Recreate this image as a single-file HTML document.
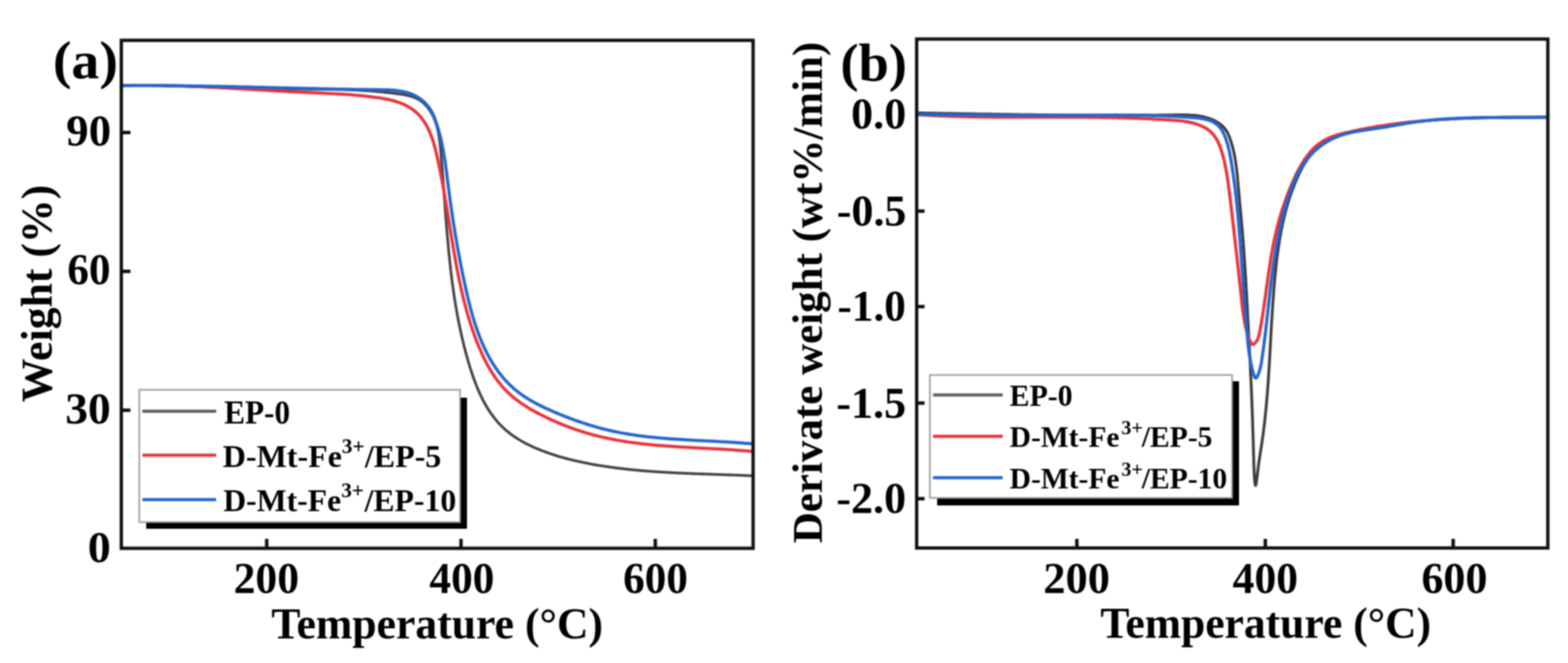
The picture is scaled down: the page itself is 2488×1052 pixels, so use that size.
<!DOCTYPE html>
<html><head><meta charset="utf-8"><title>TGA and DTG curves</title>
<style>html,body{margin:0;padding:0;background:#fff;}svg{display:block;filter:blur(1px);}</style>
</head><body>
<svg width="2488" height="1052" viewBox="0 0 2488 1052">
<rect width="2488" height="1052" fill="#ffffff"/>
<defs><clipPath id="ca"><rect x="192" y="64" width="1003" height="806"/></clipPath><clipPath id="cb"><rect x="1454" y="62" width="1002" height="807"/></clipPath></defs>
<g clip-path="url(#ca)"><path d="M190.0,135.9 192.9,135.9 195.8,135.8 198.7,135.8 201.5,135.8 204.4,135.8 207.3,135.8 210.2,135.7 213.1,135.7 216.0,135.7 218.9,135.8 221.8,135.8 224.6,135.8 227.5,135.8 230.4,135.8 233.3,135.8 236.2,135.9 239.1,135.9 242.0,135.9 244.9,136.0 247.7,136.0 250.6,136.1 253.5,136.1 256.4,136.2 259.3,136.2 262.2,136.3 265.1,136.4 267.9,136.4 270.8,136.5 273.7,136.6 276.6,136.6 279.5,136.7 282.4,136.8 285.3,136.8 288.1,136.9 291.0,137.0 293.9,137.1 296.8,137.2 299.7,137.3 302.6,137.3 305.4,137.4 308.3,137.5 311.2,137.6 314.1,137.7 317.0,137.8 319.9,137.9 322.7,138.0 325.6,138.1 328.5,138.2 331.4,138.3 334.3,138.4 337.2,138.5 340.1,138.5 342.9,138.6 345.8,138.7 348.7,138.8 351.6,138.9 354.5,139.0 357.4,139.1 360.2,139.2 363.1,139.3 366.0,139.4 368.9,139.5 371.8,139.6 374.7,139.7 377.5,139.7 380.4,139.8 383.3,139.9 386.2,140.0 389.1,140.1 392.0,140.2 394.8,140.2 397.7,140.3 400.6,140.4 403.5,140.5 406.4,140.5 409.3,140.6 412.1,140.7 415.0,140.7 417.9,140.8 420.8,140.8 423.7,140.9 426.6,141.0 429.4,141.0 432.3,141.0 435.2,141.1 438.1,141.1 441.0,141.2 443.9,141.2 446.7,141.2 449.6,141.3 452.5,141.3 455.4,141.3 458.3,141.3 461.2,141.3 464.0,141.4 466.9,141.4 469.8,141.4 472.7,141.4 475.6,141.4 478.5,141.4 481.3,141.4 484.2,141.4 487.1,141.5 490.0,141.5 492.9,141.5 495.8,141.5 498.7,141.5 501.5,141.6 504.4,141.6 507.3,141.6 510.2,141.6 513.1,141.7 516.0,141.7 518.9,141.7 521.7,141.8 524.6,141.8 527.5,141.9 530.4,141.9 533.3,142.0 536.2,142.1 539.1,142.1 542.0,142.2 544.9,142.3 547.7,142.4 550.6,142.5 553.5,142.6 556.4,142.7 559.3,142.8 562.2,142.9 565.1,143.1 568.0,143.2 570.9,143.4 573.8,143.5 576.7,143.7 579.6,143.9 582.5,144.0 585.3,144.2 588.2,144.4 591.1,144.6 594.0,144.9 596.9,145.1 599.8,145.4 602.7,145.6 605.6,145.9 608.5,146.2 611.4,146.5 614.3,146.8 617.2,147.1 620.1,147.4 623.0,147.8 625.9,148.1 628.8,148.5 631.7,148.9 634.6,149.3 637.5,149.7 640.4,150.2 643.2,150.7 646.1,151.3 648.8,152.0 651.6,152.7 654.3,153.5 656.9,154.5 659.5,155.5 661.9,156.7 664.3,158.0 666.7,159.4 668.9,161.0 671.0,162.7 673.1,164.6 675.1,166.5 676.9,168.6 678.7,170.7 680.4,172.9 682.0,175.2 683.5,177.6 685.0,180.0 686.3,182.5 687.5,185.0 688.7,187.6 689.7,190.2 690.7,192.8 691.6,195.5 692.5,198.2 693.3,200.9 694.0,203.6 694.7,206.4 695.3,209.2 695.8,212.1 696.3,214.9 696.8,217.8 697.2,220.7 697.6,223.6 698.0,226.5 698.3,229.4 698.6,232.4 698.9,235.3 699.2,238.3 699.4,241.2 699.7,244.1 700.0,247.1 700.2,250.0 700.4,253.0 700.7,255.9 700.9,258.8 701.2,261.8 701.4,264.7 701.6,267.6 701.9,270.6 702.1,273.5 702.3,276.4 702.5,279.3 702.8,282.3 703.0,285.2 703.2,288.1 703.4,291.0 703.6,293.9 703.9,296.8 704.1,299.7 704.3,302.7 704.5,305.6 704.7,308.5 704.9,311.4 705.1,314.3 705.4,317.2 705.6,320.1 705.8,322.9 706.0,325.8 706.2,328.7 706.4,331.6 706.6,334.5 706.9,337.4 707.1,340.3 707.3,343.2 707.5,346.0 707.7,348.9 708.0,351.8 708.2,354.7 708.4,357.5 708.7,360.4 708.9,363.3 709.1,366.2 709.4,369.0 709.6,371.9 709.9,374.8 710.1,377.6 710.4,380.5 710.6,383.3 710.9,386.2 711.1,389.1 711.4,391.9 711.7,394.8 711.9,397.6 712.2,400.5 712.5,403.3 712.8,406.2 713.1,409.0 713.4,411.9 713.7,414.7 714.0,417.6 714.3,420.4 714.6,423.3 714.9,426.1 715.2,429.0 715.6,431.8 715.9,434.6 716.3,437.5 716.6,440.3 717.0,443.1 717.3,446.0 717.7,448.8 718.1,451.6 718.5,454.5 718.9,457.3 719.3,460.1 719.7,463.0 720.1,465.8 720.5,468.6 720.9,471.5 721.4,474.3 721.8,477.1 722.3,479.9 722.7,482.8 723.2,485.6 723.7,488.4 724.2,491.2 724.7,494.1 725.2,496.9 725.7,499.7 726.2,502.5 726.7,505.3 727.3,508.2 727.8,511.0 728.4,513.8 729.0,516.6 729.6,519.4 730.2,522.2 730.8,525.1 731.4,527.9 732.0,530.7 732.6,533.5 733.3,536.3 734.0,539.1 734.6,541.9 735.3,544.7 736.0,547.6 736.7,550.4 737.4,553.2 738.2,556.0 738.9,558.8 739.7,561.6 740.4,564.4 741.2,567.2 742.0,570.0 742.8,572.9 743.6,575.7 744.5,578.5 745.3,581.3 746.2,584.1 747.1,586.9 748.0,589.7 748.9,592.5 749.8,595.2 750.8,598.0 751.8,600.8 752.8,603.5 753.8,606.2 754.8,609.0 755.9,611.7 757.0,614.4 758.1,617.1 759.2,619.7 760.4,622.4 761.6,625.0 762.8,627.6 764.1,630.2 765.3,632.8 766.6,635.4 768.0,637.9 769.4,640.4 770.8,642.9 772.2,645.4 773.7,647.8 775.2,650.2 776.7,652.6 778.3,654.9 779.9,657.2 781.6,659.5 783.3,661.8 785.0,664.0 786.8,666.2 788.6,668.3 790.4,670.5 792.3,672.6 794.3,674.6 796.3,676.6 798.3,678.6 800.4,680.5 802.5,682.4 804.7,684.2 806.9,686.0 809.1,687.8 811.4,689.5 813.8,691.2 816.2,692.8 818.6,694.4 821.0,696.0 823.5,697.5 826.0,699.0 828.5,700.5 831.1,701.9 833.7,703.3 836.3,704.6 839.0,705.9 841.6,707.2 844.3,708.5 847.0,709.7 849.7,710.9 852.4,712.0 855.1,713.1 857.8,714.2 860.5,715.3 863.3,716.3 866.0,717.4 868.8,718.3 871.5,719.3 874.2,720.2 877.0,721.1 879.7,722.0 882.5,722.9 885.2,723.7 888.0,724.6 890.8,725.4 893.5,726.1 896.3,726.9 899.1,727.6 901.9,728.4 904.6,729.1 907.4,729.7 910.2,730.4 913.0,731.1 915.8,731.7 918.6,732.3 921.4,732.9 924.2,733.5 927.0,734.1 929.8,734.7 932.6,735.2 935.4,735.8 938.2,736.3 941.0,736.8 943.9,737.3 946.7,737.8 949.5,738.3 952.4,738.8 955.2,739.2 958.0,739.7 960.9,740.1 963.7,740.5 966.6,740.9 969.4,741.3 972.2,741.7 975.1,742.1 978.0,742.5 980.8,742.8 983.7,743.2 986.5,743.5 989.4,743.9 992.3,744.2 995.1,744.5 998.0,744.8 1000.9,745.1 1003.7,745.4 1006.6,745.7 1009.5,746.0 1012.3,746.2 1015.2,746.5 1018.1,746.8 1021.0,747.0 1023.9,747.2 1026.7,747.5 1029.6,747.7 1032.5,747.9 1035.4,748.1 1038.3,748.3 1041.2,748.5 1044.1,748.7 1047.0,748.9 1049.8,749.1 1052.7,749.2 1055.6,749.4 1058.5,749.6 1061.4,749.7 1064.3,749.9 1067.2,750.1 1070.1,750.2 1073.0,750.3 1075.9,750.5 1078.8,750.6 1081.7,750.7 1084.6,750.9 1087.5,751.0 1090.4,751.1 1093.3,751.2 1096.1,751.4 1099.0,751.5 1101.9,751.6 1104.8,751.7 1107.7,751.8 1110.6,751.9 1113.5,752.0 1116.4,752.1 1119.3,752.2 1122.2,752.3 1125.1,752.4 1128.0,752.5 1130.8,752.6 1133.7,752.7 1136.6,752.8 1139.5,752.9 1142.4,753.0 1145.3,753.1 1148.2,753.2 1151.0,753.3 1153.9,753.4 1156.8,753.5 1159.7,753.6 1162.5,753.7 1165.4,753.8 1168.3,753.9 1171.2,754.0 1174.0,754.1 1176.9,754.2 1179.8,754.3 1182.6,754.5 1185.5,754.6 1188.3,754.7 1191.2,754.8 1194.1,755.0 1196.9,755.1" fill="none" stroke="#434343" stroke-width="4.3" stroke-linejoin="round"/>
<path d="M190.0,136.2 192.7,136.1 195.4,136.0 198.2,135.9 200.9,135.8 203.6,135.8 206.4,135.7 209.1,135.7 211.8,135.6 214.6,135.6 217.3,135.6 220.0,135.5 222.8,135.5 225.5,135.5 228.2,135.5 230.9,135.5 233.7,135.5 236.4,135.5 239.1,135.5 241.9,135.5 244.6,135.5 247.3,135.5 250.1,135.6 252.8,135.6 255.5,135.6 258.2,135.7 261.0,135.7 263.7,135.8 266.4,135.8 269.2,135.9 271.9,136.0 274.6,136.0 277.4,136.1 280.1,136.2 282.8,136.3 285.5,136.3 288.3,136.4 291.0,136.5 293.7,136.6 296.5,136.7 299.2,136.8 301.9,136.9 304.7,137.0 307.4,137.1 310.1,137.2 312.8,137.4 315.6,137.5 318.3,137.6 321.0,137.7 323.7,137.8 326.5,138.0 329.2,138.1 331.9,138.2 334.7,138.4 337.4,138.5 340.1,138.6 342.8,138.8 345.6,138.9 348.3,139.1 351.0,139.2 353.8,139.4 356.5,139.5 359.2,139.6 361.9,139.8 364.7,140.0 367.4,140.1 370.1,140.3 372.8,140.4 375.6,140.6 378.3,140.7 381.0,140.9 383.7,141.0 386.5,141.2 389.2,141.4 391.9,141.5 394.6,141.7 397.4,141.8 400.1,142.0 402.8,142.2 405.5,142.3 408.2,142.5 411.0,142.6 413.7,142.8 416.4,143.0 419.1,143.1 421.9,143.3 424.6,143.4 427.3,143.6 430.0,143.8 432.7,143.9 435.5,144.1 438.2,144.2 440.9,144.4 443.6,144.5 446.4,144.7 449.1,144.8 451.8,145.0 454.5,145.1 457.2,145.3 460.0,145.4 462.7,145.5 465.4,145.7 468.1,145.8 470.8,146.0 473.5,146.1 476.3,146.2 479.0,146.4 481.7,146.5 484.4,146.6 487.1,146.7 489.8,146.8 492.6,147.0 495.3,147.1 498.0,147.2 500.7,147.3 503.4,147.4 506.1,147.6 508.9,147.7 511.6,147.8 514.3,147.9 517.0,148.1 519.7,148.2 522.5,148.3 525.2,148.4 527.9,148.6 530.6,148.7 533.3,148.9 536.1,149.0 538.8,149.2 541.5,149.4 544.2,149.5 547.0,149.7 549.7,149.9 552.4,150.1 555.2,150.3 557.9,150.5 560.6,150.7 563.4,151.0 566.1,151.2 568.9,151.4 571.6,151.7 574.3,152.0 577.1,152.3 579.8,152.6 582.6,152.9 585.4,153.2 588.1,153.5 590.9,153.9 593.6,154.2 596.4,154.6 599.2,155.0 601.9,155.4 604.7,155.8 607.4,156.3 610.2,156.7 612.9,157.3 615.7,157.8 618.4,158.4 621.1,159.0 623.8,159.7 626.4,160.5 629.0,161.3 631.6,162.1 634.2,163.0 636.7,164.0 639.2,165.0 641.7,166.2 644.1,167.3 646.5,168.6 648.8,169.9 651.0,171.3 653.2,172.7 655.4,174.2 657.4,175.8 659.4,177.5 661.4,179.2 663.3,181.0 665.1,182.9 666.8,184.8 668.4,186.8 670.0,188.8 671.6,190.9 673.0,193.1 674.5,195.3 675.8,197.5 677.1,199.8 678.3,202.2 679.5,204.5 680.7,207.0 681.8,209.4 682.8,211.9 683.8,214.5 684.8,217.0 685.7,219.6 686.6,222.2 687.4,224.9 688.2,227.5 689.0,230.2 689.8,232.9 690.5,235.6 691.2,238.4 691.9,241.1 692.5,243.9 693.2,246.6 693.8,249.4 694.4,252.2 695.0,254.9 695.6,257.7 696.2,260.4 696.7,263.2 697.3,265.9 697.9,268.7 698.4,271.4 699.0,274.1 699.5,276.9 700.0,279.6 700.5,282.3 701.0,285.0 701.6,287.7 702.1,290.5 702.6,293.2 703.0,295.9 703.5,298.6 704.0,301.3 704.5,304.0 705.0,306.7 705.4,309.3 705.9,312.0 706.3,314.7 706.8,317.4 707.3,320.1 707.7,322.8 708.2,325.4 708.6,328.1 709.0,330.8 709.5,333.4 709.9,336.1 710.4,338.8 710.8,341.4 711.2,344.1 711.7,346.8 712.1,349.4 712.5,352.1 712.9,354.8 713.4,357.4 713.8,360.1 714.2,362.7 714.7,365.4 715.1,368.0 715.5,370.7 716.0,373.4 716.4,376.0 716.8,378.7 717.3,381.3 717.7,384.0 718.2,386.6 718.6,389.3 719.1,392.0 719.5,394.6 720.0,397.3 720.4,399.9 720.9,402.6 721.3,405.3 721.8,407.9 722.3,410.6 722.8,413.3 723.2,415.9 723.7,418.6 724.2,421.3 724.7,423.9 725.2,426.6 725.7,429.3 726.3,431.9 726.8,434.6 727.3,437.3 727.9,440.0 728.4,442.6 729.0,445.3 729.5,448.0 730.1,450.6 730.7,453.3 731.2,456.0 731.8,458.6 732.4,461.3 733.0,464.0 733.7,466.6 734.3,469.3 734.9,472.0 735.6,474.6 736.2,477.3 736.9,479.9 737.6,482.6 738.3,485.2 739.0,487.9 739.7,490.5 740.4,493.2 741.2,495.8 741.9,498.4 742.7,501.1 743.5,503.7 744.3,506.3 745.1,508.9 745.9,511.6 746.7,514.2 747.6,516.8 748.4,519.4 749.3,522.0 750.2,524.6 751.1,527.2 752.0,529.8 752.9,532.3 753.9,534.9 754.8,537.5 755.8,540.1 756.8,542.6 757.8,545.2 758.9,547.7 759.9,550.3 761.0,552.8 762.1,555.3 763.2,557.9 764.3,560.4 765.4,562.9 766.6,565.3 767.8,567.8 769.0,570.3 770.2,572.7 771.5,575.2 772.8,577.6 774.1,580.0 775.4,582.4 776.8,584.7 778.1,587.1 779.5,589.4 781.0,591.7 782.4,594.0 783.9,596.2 785.5,598.4 787.0,600.6 788.6,602.8 790.2,605.0 791.9,607.1 793.5,609.2 795.3,611.3 797.0,613.3 798.8,615.3 800.6,617.3 802.5,619.2 804.4,621.1 806.3,623.0 808.2,624.8 810.2,626.7 812.3,628.4 814.3,630.2 816.4,631.9 818.6,633.5 820.7,635.2 822.9,636.8 825.1,638.4 827.3,640.0 829.6,641.5 831.9,643.0 834.2,644.5 836.5,645.9 838.9,647.4 841.2,648.8 843.6,650.2 846.0,651.5 848.4,652.9 850.8,654.2 853.3,655.5 855.7,656.8 858.2,658.1 860.6,659.3 863.1,660.5 865.6,661.7 868.1,662.9 870.5,664.1 873.0,665.3 875.5,666.4 878.0,667.6 880.6,668.7 883.1,669.8 885.6,670.9 888.1,671.9 890.7,673.0 893.2,674.0 895.7,675.0 898.3,676.0 900.8,677.0 903.4,677.9 906.0,678.9 908.5,679.8 911.1,680.7 913.7,681.6 916.3,682.5 918.9,683.3 921.5,684.2 924.1,685.0 926.7,685.8 929.3,686.6 931.9,687.4 934.5,688.1 937.1,688.9 939.7,689.6 942.4,690.3 945.0,691.0 947.6,691.6 950.3,692.3 952.9,692.9 955.5,693.6 958.2,694.2 960.8,694.7 963.5,695.3 966.2,695.9 968.8,696.4 971.5,696.9 974.1,697.5 976.8,698.0 979.5,698.4 982.2,698.9 984.8,699.4 987.5,699.8 990.2,700.2 992.9,700.7 995.6,701.1 998.3,701.5 1001.0,701.9 1003.7,702.2 1006.4,702.6 1009.1,702.9 1011.8,703.3 1014.5,703.6 1017.2,703.9 1019.9,704.3 1022.6,704.6 1025.3,704.9 1028.0,705.1 1030.7,705.4 1033.4,705.7 1036.2,705.9 1038.9,706.2 1041.6,706.4 1044.3,706.7 1047.1,706.9 1049.8,707.1 1052.5,707.3 1055.2,707.6 1058.0,707.8 1060.7,708.0 1063.4,708.1 1066.2,708.3 1068.9,708.5 1071.6,708.7 1074.4,708.9 1077.1,709.0 1079.8,709.2 1082.6,709.4 1085.3,709.5 1088.0,709.7 1090.8,709.8 1093.5,710.0 1096.2,710.1 1099.0,710.3 1101.7,710.4 1104.4,710.6 1107.2,710.7 1109.9,710.9 1112.6,711.0 1115.4,711.2 1118.1,711.3 1120.8,711.4 1123.6,711.6 1126.3,711.7 1129.0,711.9 1131.8,712.0 1134.5,712.2 1137.2,712.3 1140.0,712.5 1142.7,712.6 1145.4,712.8 1148.1,712.9 1150.9,713.1 1153.6,713.3 1156.3,713.4 1159.0,713.6 1161.8,713.8 1164.5,714.0 1167.2,714.2 1169.9,714.4 1172.6,714.6 1175.3,714.8 1178.0,715.0 1180.7,715.2 1183.4,715.4 1186.1,715.6 1188.8,715.9 1191.5,716.1 1194.2,716.4 1196.9,716.6" fill="none" stroke="#e8343c" stroke-width="5" stroke-linejoin="round"/>
<path d="M189.7,135.8 192.5,135.8 195.3,135.8 198.1,135.7 200.9,135.7 203.6,135.7 206.4,135.7 209.2,135.7 212.0,135.7 214.8,135.7 217.6,135.7 220.4,135.7 223.1,135.7 225.9,135.7 228.7,135.7 231.5,135.7 234.2,135.7 237.0,135.7 239.8,135.7 242.5,135.7 245.3,135.7 248.1,135.8 250.8,135.8 253.6,135.8 256.4,135.8 259.1,135.8 261.9,135.9 264.6,135.9 267.4,135.9 270.1,135.9 272.9,136.0 275.6,136.0 278.4,136.0 281.1,136.0 283.9,136.1 286.6,136.1 289.4,136.1 292.1,136.2 294.8,136.2 297.6,136.3 300.3,136.3 303.1,136.3 305.8,136.4 308.5,136.4 311.3,136.5 314.0,136.5 316.7,136.6 319.5,136.6 322.2,136.6 324.9,136.7 327.7,136.7 330.4,136.8 333.1,136.8 335.9,136.9 338.6,136.9 341.3,137.0 344.1,137.1 346.8,137.1 349.5,137.2 352.2,137.2 355.0,137.3 357.7,137.3 360.4,137.4 363.2,137.4 365.9,137.5 368.6,137.6 371.3,137.6 374.1,137.7 376.8,137.7 379.5,137.8 382.2,137.9 385.0,137.9 387.7,138.0 390.4,138.1 393.1,138.1 395.9,138.2 398.6,138.2 401.3,138.3 404.0,138.4 406.8,138.4 409.5,138.5 412.2,138.6 415.0,138.6 417.7,138.7 420.4,138.8 423.1,138.8 425.9,138.9 428.6,139.0 431.3,139.0 434.1,139.1 436.8,139.2 439.5,139.2 442.3,139.3 445.0,139.4 447.7,139.4 450.5,139.5 453.2,139.6 455.9,139.6 458.7,139.7 461.4,139.8 464.1,139.8 466.9,139.9 469.6,140.0 472.4,140.0 475.1,140.1 477.9,140.1 480.6,140.2 483.4,140.3 486.1,140.3 488.8,140.4 491.6,140.5 494.3,140.5 497.1,140.6 499.9,140.6 502.6,140.7 505.4,140.8 508.1,140.8 510.9,140.9 513.6,140.9 516.4,141.0 519.2,141.1 521.9,141.1 524.7,141.2 527.5,141.2 530.2,141.3 533.0,141.3 535.8,141.4 538.6,141.4 541.4,141.5 544.1,141.5 546.9,141.6 549.7,141.6 552.5,141.7 555.3,141.7 558.1,141.8 560.8,141.8 563.6,141.9 566.4,141.9 569.2,141.9 572.0,142.0 574.8,142.0 577.6,142.1 580.4,142.1 583.3,142.1 586.1,142.2 588.9,142.2 591.7,142.2 594.5,142.3 597.3,142.3 600.2,142.3 603.0,142.4 605.8,142.4 608.6,142.5 611.4,142.5 614.2,142.6 617.0,142.7 619.8,142.9 622.6,143.1 625.3,143.3 628.1,143.6 630.8,143.9 633.5,144.2 636.1,144.7 638.8,145.2 641.4,145.7 644.0,146.3 646.5,147.0 649.1,147.8 651.5,148.7 654.0,149.6 656.4,150.7 658.8,151.8 661.1,153.1 663.3,154.5 665.6,155.9 667.7,157.5 669.8,159.2 671.9,160.9 673.9,162.8 675.8,164.7 677.6,166.7 679.3,168.8 681.0,171.0 682.5,173.2 684.0,175.5 685.3,177.9 686.6,180.3 687.7,182.8 688.7,185.3 689.7,187.8 690.7,190.4 691.6,193.0 692.5,195.6 693.4,198.2 694.2,200.8 695.0,203.4 695.8,206.0 696.5,208.7 697.2,211.3 697.9,214.0 698.6,216.7 699.3,219.4 699.9,222.0 700.5,224.7 701.1,227.5 701.6,230.2 702.2,232.9 702.7,235.6 703.2,238.3 703.7,241.1 704.2,243.8 704.6,246.6 705.1,249.3 705.5,252.1 706.0,254.8 706.4,257.6 706.8,260.4 707.2,263.1 707.5,265.9 707.9,268.7 708.3,271.4 708.7,274.2 709.0,277.0 709.4,279.7 709.7,282.5 710.1,285.2 710.4,288.0 710.8,290.8 711.1,293.5 711.4,296.3 711.8,299.0 712.1,301.7 712.5,304.5 712.9,307.2 713.2,309.9 713.6,312.6 713.9,315.4 714.3,318.1 714.7,320.8 715.1,323.5 715.4,326.2 715.8,328.9 716.2,331.6 716.6,334.3 717.0,337.0 717.4,339.6 717.8,342.3 718.2,345.0 718.6,347.7 719.0,350.4 719.4,353.0 719.8,355.7 720.3,358.4 720.7,361.0 721.1,363.7 721.6,366.4 722.0,369.1 722.4,371.7 722.9,374.4 723.3,377.0 723.8,379.7 724.2,382.4 724.7,385.0 725.2,387.7 725.7,390.4 726.1,393.0 726.6,395.7 727.1,398.4 727.6,401.1 728.1,403.7 728.6,406.4 729.1,409.1 729.6,411.8 730.1,414.4 730.6,417.1 731.1,419.8 731.7,422.5 732.2,425.2 732.7,427.9 733.3,430.6 733.8,433.3 734.4,436.0 734.9,438.7 735.5,441.4 736.1,444.1 736.6,446.8 737.2,449.5 737.8,452.2 738.4,455.0 739.0,457.7 739.6,460.4 740.2,463.2 740.8,465.9 741.5,468.6 742.1,471.3 742.8,474.1 743.4,476.8 744.1,479.5 744.8,482.2 745.5,485.0 746.2,487.7 746.9,490.4 747.6,493.1 748.4,495.8 749.2,498.5 749.9,501.2 750.7,503.9 751.5,506.5 752.3,509.2 753.2,511.9 754.0,514.5 754.9,517.2 755.8,519.8 756.7,522.4 757.6,525.0 758.5,527.6 759.5,530.2 760.5,532.8 761.5,535.4 762.5,537.9 763.5,540.5 764.6,543.0 765.7,545.5 766.8,548.0 767.9,550.5 769.0,553.0 770.2,555.4 771.4,557.8 772.6,560.3 773.9,562.7 775.2,565.0 776.4,567.4 777.8,569.8 779.1,572.1 780.5,574.4 781.9,576.7 783.3,578.9 784.8,581.2 786.3,583.4 787.8,585.6 789.3,587.8 790.9,589.9 792.5,592.1 794.1,594.2 795.8,596.2 797.5,598.3 799.2,600.3 801.0,602.3 802.8,604.3 804.6,606.3 806.5,608.2 808.4,610.1 810.3,611.9 812.3,613.8 814.3,615.6 816.3,617.4 818.4,619.1 820.5,620.8 822.7,622.5 824.8,624.1 827.1,625.8 829.3,627.3 831.6,628.9 833.9,630.4 836.3,631.9 838.7,633.4 841.1,634.8 843.5,636.3 846.0,637.6 848.5,639.0 851.0,640.3 853.5,641.7 856.0,642.9 858.6,644.2 861.2,645.5 863.7,646.7 866.3,647.9 868.9,649.1 871.5,650.3 874.1,651.4 876.7,652.6 879.3,653.7 881.9,654.8 884.5,655.9 887.1,657.0 889.7,658.0 892.3,659.1 894.9,660.1 897.4,661.1 900.0,662.1 902.6,663.1 905.2,664.1 907.8,665.1 910.4,666.0 912.9,666.9 915.5,667.8 918.1,668.7 920.7,669.6 923.2,670.5 925.8,671.4 928.4,672.2 931.0,673.0 933.6,673.8 936.1,674.6 938.7,675.4 941.3,676.2 943.9,676.9 946.5,677.7 949.1,678.4 951.7,679.1 954.3,679.8 956.9,680.5 959.5,681.1 962.1,681.8 964.8,682.4 967.4,683.0 970.0,683.6 972.7,684.2 975.3,684.8 978.0,685.3 980.6,685.9 983.3,686.4 985.9,686.9 988.6,687.4 991.3,687.9 994.0,688.3 996.7,688.8 999.3,689.2 1002.0,689.6 1004.7,690.0 1007.5,690.4 1010.2,690.8 1012.9,691.2 1015.6,691.5 1018.3,691.9 1021.1,692.2 1023.8,692.6 1026.5,692.9 1029.3,693.2 1032.0,693.5 1034.7,693.8 1037.5,694.0 1040.2,694.3 1043.0,694.6 1045.8,694.8 1048.5,695.1 1051.3,695.3 1054.0,695.5 1056.8,695.8 1059.6,696.0 1062.3,696.2 1065.1,696.4 1067.9,696.6 1070.6,696.8 1073.4,697.0 1076.2,697.1 1079.0,697.3 1081.7,697.5 1084.5,697.6 1087.3,697.8 1090.1,698.0 1092.8,698.1 1095.6,698.3 1098.4,698.4 1101.2,698.6 1103.9,698.7 1106.7,698.9 1109.5,699.0 1112.3,699.1 1115.0,699.3 1117.8,699.4 1120.6,699.6 1123.3,699.7 1126.1,699.8 1128.9,700.0 1131.6,700.1 1134.4,700.3 1137.1,700.4 1139.9,700.6 1142.6,700.7 1145.4,700.9 1148.1,701.0 1150.9,701.2 1153.6,701.3 1156.3,701.5 1159.1,701.7 1161.8,701.8 1164.5,702.0 1167.2,702.2 1169.9,702.4 1172.7,702.6 1175.4,702.8 1178.1,703.0 1180.8,703.2 1183.4,703.4 1186.1,703.6 1188.8,703.8 1191.5,704.1 1194.2,704.3 1196.8,704.6" fill="none" stroke="#2266d0" stroke-width="5" stroke-linejoin="round"/></g>
<rect x="192.5" y="64" width="1002.5" height="806" fill="none" stroke="#111" stroke-width="5.3"/>
<line x1="423.2" y1="870" x2="423.2" y2="855" stroke="#111" stroke-width="5.5"/>
<line x1="731.5" y1="870" x2="731.5" y2="855" stroke="#111" stroke-width="5.5"/>
<line x1="1039.8" y1="870" x2="1039.8" y2="855" stroke="#111" stroke-width="5.5"/>
<line x1="192" y1="210.3" x2="207" y2="210.3" stroke="#111" stroke-width="5.5"/>
<line x1="192" y1="430.6" x2="207" y2="430.6" stroke="#111" stroke-width="5.5"/>
<line x1="192" y1="650.9" x2="207" y2="650.9" stroke="#111" stroke-width="5.5"/>
<path d="M232,833.5 H735.5 V631" fill="none" stroke="#000" stroke-width="11"/>
<rect x="221" y="618.5" width="509" height="210" fill="#fff" stroke="#9a9a9a" stroke-width="2.5"/>
<line x1="226" y1="652.6" x2="343" y2="652.6" stroke="#606060" stroke-width="5"/>
<line x1="226" y1="722.3" x2="343" y2="722.3" stroke="#e8343c" stroke-width="5"/>
<line x1="226" y1="792.8" x2="343" y2="792.8" stroke="#2266d0" stroke-width="5"/>
<g clip-path="url(#cb)"><path d="M1451.8,179.1 1455.8,179.2 1459.9,179.2 1463.9,179.3 1468.0,179.4 1472.0,179.4 1476.1,179.5 1480.1,179.6 1484.1,179.7 1488.2,179.7 1492.2,179.8 1496.2,179.9 1500.3,179.9 1504.3,180.0 1508.3,180.1 1512.3,180.1 1516.3,180.2 1520.4,180.3 1524.4,180.3 1528.4,180.4 1532.4,180.5 1536.4,180.5 1540.4,180.6 1544.4,180.7 1548.4,180.7 1552.4,180.8 1556.4,180.9 1560.4,180.9 1564.4,181.0 1568.4,181.1 1572.4,181.1 1576.4,181.2 1580.4,181.3 1584.3,181.3 1588.3,181.4 1592.3,181.5 1596.3,181.5 1600.3,181.6 1604.3,181.6 1608.3,181.7 1612.2,181.7 1616.2,181.8 1620.2,181.9 1624.2,181.9 1628.2,182.0 1632.1,182.0 1636.1,182.1 1640.1,182.1 1644.1,182.2 1648.1,182.2 1652.1,182.3 1656.0,182.3 1660.0,182.3 1664.0,182.4 1668.0,182.4 1672.0,182.5 1675.9,182.5 1679.9,182.6 1683.9,182.6 1687.9,182.6 1691.9,182.7 1695.9,182.7 1699.9,182.7 1703.9,182.7 1707.8,182.8 1711.8,182.8 1715.8,182.8 1719.8,182.8 1723.8,182.9 1727.8,182.9 1731.8,182.9 1735.8,182.9 1739.8,182.9 1743.8,182.9 1747.8,183.0 1751.8,183.0 1755.8,183.0 1759.9,183.0 1763.9,183.0 1767.9,183.0 1771.9,183.0 1775.9,183.0 1779.9,183.0 1784.0,183.0 1788.0,183.0 1792.0,182.9 1796.1,182.9 1800.1,182.9 1804.1,182.9 1808.2,182.9 1812.2,182.8 1816.3,182.8 1820.3,182.8 1824.4,182.8 1828.4,182.7 1832.5,182.7 1836.6,182.7 1840.6,182.6 1844.7,182.6 1848.8,182.5 1852.8,182.5 1856.9,182.4 1861.0,182.4 1865.1,182.3 1869.2,182.3 1873.3,182.3 1877.3,182.3 1881.4,182.3 1885.4,182.5 1889.4,182.7 1893.4,183.0 1897.4,183.3 1901.3,183.8 1905.1,184.5 1909.0,185.2 1912.7,186.1 1916.4,187.2 1920.1,188.4 1923.7,189.8 1927.2,191.5 1930.6,193.3 1933.9,195.3 1937.0,197.6 1939.9,200.1 1942.5,202.9 1944.9,206.0 1947.0,209.3 1948.8,212.8 1950.4,216.5 1951.8,220.3 1953.1,224.2 1954.3,228.0 1955.4,231.9 1956.4,235.8 1957.4,239.7 1958.2,243.6 1959.0,247.6 1959.7,251.6 1960.4,255.5 1961.0,259.5 1961.5,263.5 1962.1,267.5 1962.5,271.5 1963.0,275.6 1963.4,279.6 1963.8,283.6 1964.1,287.7 1964.5,291.7 1964.8,295.7 1965.2,299.8 1965.6,303.8 1965.9,307.8 1966.3,311.8 1966.7,315.9 1967.0,319.9 1967.4,323.9 1967.8,327.9 1968.1,331.9 1968.5,335.9 1968.9,339.9 1969.3,343.9 1969.6,347.9 1970.0,351.9 1970.3,355.9 1970.7,359.9 1971.0,363.8 1971.3,367.8 1971.7,371.8 1972.0,375.7 1972.3,379.7 1972.6,383.7 1972.9,387.6 1973.2,391.6 1973.5,395.5 1973.8,399.5 1974.0,403.4 1974.3,407.4 1974.6,411.3 1974.9,415.3 1975.1,419.2 1975.4,423.2 1975.6,427.1 1975.9,431.1 1976.1,435.1 1976.4,439.0 1976.6,443.0 1976.8,447.0 1977.1,450.9 1977.3,454.9 1977.5,458.9 1977.8,462.9 1978.0,466.9 1978.2,470.9 1978.4,474.9 1978.6,478.9 1978.9,482.9 1979.1,486.9 1979.3,491.0 1979.5,495.0 1979.7,499.1 1979.9,503.1 1980.1,507.2 1980.4,511.3 1980.6,515.4 1980.8,519.4 1981.0,523.5 1981.2,527.7 1981.4,531.8 1981.6,535.9 1981.8,540.0 1982.1,544.1 1982.3,548.1 1982.5,552.2 1982.7,556.3 1982.9,560.4 1983.1,564.4 1983.3,568.4 1983.5,572.5 1983.7,576.5 1983.9,580.4 1984.1,584.4 1984.2,588.3 1984.4,592.2 1984.6,596.1 1984.8,599.9 1985.0,603.7 1985.1,607.5 1985.3,611.2 1985.5,614.9 1985.6,618.5 1985.8,622.1 1985.9,625.7 1986.1,629.3 1986.2,632.8 1986.4,636.4 1986.5,639.9 1986.6,643.5 1986.8,647.1 1986.9,650.8 1987.0,654.5 1987.2,658.3 1987.3,662.2 1987.4,666.2 1987.6,670.2 1987.7,674.4 1987.8,678.7 1988.0,683.2 1988.1,687.8 1988.3,692.6 1988.4,697.5 1988.6,702.7 1988.7,708.0 1988.9,713.5 1989.0,719.2 1989.2,724.9 1989.4,730.6 1989.5,736.3 1989.7,741.7 1989.9,747.0 1990.2,751.8 1990.4,756.3 1990.6,760.3 1990.9,763.8 1991.2,766.6 1991.5,768.7 1991.9,769.9 1992.2,770.4 1992.6,769.8 1993.0,768.3 1993.4,765.9 1993.9,762.7 1994.4,759.0 1994.9,754.8 1995.4,750.4 1996.0,745.8 1996.5,741.2 1997.1,736.8 1997.7,732.4 1998.3,728.1 1999.0,724.0 1999.6,719.9 2000.2,715.8 2000.8,711.8 2001.5,707.8 2002.1,703.9 2002.6,700.0 2003.2,696.0 2003.8,692.1 2004.3,688.1 2004.8,684.2 2005.3,680.3 2005.8,676.3 2006.3,672.3 2006.7,668.4 2007.2,664.4 2007.6,660.4 2008.0,656.5 2008.4,652.5 2008.8,648.5 2009.2,644.6 2009.5,640.6 2009.9,636.6 2010.2,632.6 2010.6,628.6 2010.9,624.6 2011.2,620.6 2011.5,616.6 2011.8,612.6 2012.1,608.6 2012.4,604.6 2012.6,600.6 2012.9,596.6 2013.1,592.6 2013.4,588.6 2013.6,584.6 2013.9,580.6 2014.1,576.6 2014.3,572.6 2014.6,568.6 2014.8,564.6 2015.0,560.6 2015.2,556.6 2015.5,552.5 2015.7,548.5 2015.9,544.5 2016.1,540.5 2016.3,536.5 2016.6,532.5 2016.8,528.5 2017.0,524.5 2017.2,520.5 2017.4,516.5 2017.7,512.5 2017.9,508.4 2018.2,504.4 2018.4,500.4 2018.6,496.4 2018.9,492.4 2019.2,488.4 2019.4,484.4 2019.7,480.4 2020.0,476.5 2020.3,472.5 2020.6,468.5 2020.9,464.5 2021.2,460.5 2021.5,456.5 2021.8,452.5 2022.2,448.6 2022.5,444.6 2022.9,440.6 2023.3,436.6 2023.7,432.7 2024.1,428.7 2024.5,424.8 2024.9,420.8 2025.4,416.8 2025.8,412.9 2026.3,408.9 2026.8,405.0 2027.3,401.1 2027.9,397.1 2028.4,393.2 2029.0,389.3 2029.6,385.4 2030.2,381.4 2030.9,377.5 2031.6,373.6 2032.3,369.7 2033.0,365.8 2033.8,361.9 2034.6,358.0 2035.4,354.1 2036.3,350.2 2037.2,346.3 2038.1,342.5 2039.1,338.6 2040.1,334.7 2041.2,330.9 2042.2,327.0 2043.4,323.1 2044.6,319.3 2045.8,315.4 2047.0,311.6 2048.3,307.8 2049.7,303.9 2051.1,300.1 2052.6,296.3 2054.1,292.5 2055.6,288.6 2057.2,284.8 2058.9,281.1 2060.7,277.3 2062.4,273.6 2064.3,269.9 2066.2,266.3 2068.2,262.7 2070.3,259.2 2072.5,255.8 2074.7,252.4 2077.0,249.2 2079.4,246.0 2081.9,242.9 2084.5,240.0 2087.2,237.1 2090.0,234.4 2092.9,231.8 2095.9,229.4 2099.0,227.1 2102.2,225.0 2105.5,223.0 2108.9,221.1 2112.4,219.4 2116.0,217.9 2119.6,216.4 2123.4,215.1 2127.2,213.8 2131.0,212.7 2134.9,211.6 2138.9,210.6 2142.8,209.6 2146.8,208.8 2150.8,207.9 2154.8,207.1 2158.9,206.3 2162.9,205.6 2166.9,204.8 2170.8,204.1 2174.8,203.4 2178.8,202.7 2182.8,202.0 2186.7,201.3 2190.7,200.7 2194.6,200.0 2198.6,199.4 2202.5,198.8 2206.5,198.2 2210.4,197.6 2214.4,197.1 2218.3,196.5 2222.2,196.0 2226.2,195.5 2230.1,195.0 2234.1,194.5 2238.0,194.0 2242.0,193.6 2245.9,193.2 2249.9,192.7 2253.9,192.3 2257.8,191.9 2261.8,191.6 2265.8,191.2 2269.8,190.9 2273.7,190.6 2277.7,190.2 2281.7,189.9 2285.7,189.7 2289.7,189.4 2293.7,189.1 2297.7,188.9 2301.7,188.6 2305.7,188.4 2309.7,188.2 2313.7,188.0 2317.7,187.8 2321.8,187.7 2325.8,187.5 2329.8,187.3 2333.8,187.2 2337.8,187.1 2341.8,186.9 2345.9,186.8 2349.9,186.7 2353.9,186.6 2357.9,186.5 2361.9,186.4 2365.9,186.4 2370.0,186.3 2374.0,186.2 2378.0,186.2 2382.0,186.1 2386.0,186.1 2390.0,186.1 2394.1,186.0 2398.1,186.0 2402.1,186.0 2406.1,186.0 2410.1,186.0 2414.1,186.0 2418.1,186.0 2422.1,186.0 2426.1,186.0 2430.1,186.0 2434.1,186.0 2438.1,186.0 2442.0,186.0 2446.0,186.1 2450.0,186.1 2454.0,186.1 2458.0,186.1" fill="none" stroke="#3c3c3c" stroke-width="4.5" stroke-linejoin="round"/>
<path d="M1452.1,181.7 1455.1,181.9 1458.2,182.1 1461.2,182.3 1464.3,182.5 1467.4,182.6 1470.4,182.8 1473.5,183.0 1476.6,183.1 1479.6,183.3 1482.7,183.4 1485.8,183.6 1488.8,183.7 1491.9,183.9 1495.0,184.0 1498.0,184.1 1501.1,184.2 1504.2,184.3 1507.3,184.5 1510.3,184.6 1513.4,184.7 1516.5,184.8 1519.6,184.8 1522.6,184.9 1525.7,185.0 1528.8,185.1 1531.9,185.2 1534.9,185.2 1538.0,185.3 1541.1,185.4 1544.2,185.4 1547.3,185.5 1550.3,185.5 1553.4,185.6 1556.5,185.6 1559.6,185.7 1562.7,185.7 1565.7,185.8 1568.8,185.8 1571.9,185.8 1575.0,185.9 1578.1,185.9 1581.1,185.9 1584.2,185.9 1587.3,185.9 1590.4,186.0 1593.5,186.0 1596.6,186.0 1599.6,186.0 1602.7,186.0 1605.8,186.0 1608.9,186.0 1612.0,186.0 1615.1,186.0 1618.1,186.1 1621.2,186.1 1624.3,186.1 1627.4,186.1 1630.5,186.1 1633.6,186.1 1636.7,186.1 1639.7,186.1 1642.8,186.0 1645.9,186.0 1649.0,186.0 1652.1,186.0 1655.2,186.0 1658.2,186.0 1661.3,186.0 1664.4,186.0 1667.5,186.0 1670.6,186.0 1673.7,186.0 1676.7,186.0 1679.8,186.0 1682.9,186.0 1686.0,186.0 1689.1,186.0 1692.2,186.0 1695.2,186.0 1698.3,186.0 1701.4,186.0 1704.5,186.1 1707.6,186.1 1710.6,186.1 1713.7,186.1 1716.8,186.1 1719.9,186.1 1723.0,186.1 1726.0,186.2 1729.1,186.2 1732.2,186.2 1735.3,186.2 1738.4,186.3 1741.4,186.3 1744.5,186.3 1747.6,186.4 1750.7,186.4 1753.7,186.5 1756.8,186.5 1759.9,186.6 1763.0,186.6 1766.0,186.7 1769.1,186.8 1772.2,186.8 1775.2,186.9 1778.3,187.0 1781.4,187.0 1784.4,187.1 1787.5,187.2 1790.6,187.3 1793.6,187.4 1796.7,187.5 1799.8,187.6 1802.8,187.7 1805.9,187.8 1809.0,187.9 1812.0,188.1 1815.1,188.2 1818.1,188.3 1821.2,188.5 1824.3,188.6 1827.3,188.7 1830.4,188.9 1833.4,189.1 1836.5,189.2 1839.5,189.4 1842.6,189.6 1845.6,189.7 1848.7,189.9 1851.7,190.1 1854.8,190.3 1857.8,190.5 1860.9,190.8 1863.9,191.0 1867.0,191.2 1870.0,191.5 1873.1,191.8 1876.1,192.1 1879.2,192.5 1882.2,193.0 1885.2,193.5 1888.3,194.2 1891.3,194.8 1894.4,195.6 1897.4,196.5 1900.4,197.5 1903.4,198.7 1906.4,199.9 1909.3,201.3 1912.1,202.7 1914.8,204.4 1917.4,206.1 1919.8,208.0 1922.0,210.0 1924.1,212.2 1926.0,214.5 1927.8,216.9 1929.5,219.4 1931.0,222.0 1932.4,224.7 1933.7,227.4 1934.9,230.2 1936.0,233.1 1937.1,236.0 1938.0,238.9 1938.9,241.9 1939.8,244.9 1940.6,247.8 1941.4,250.8 1942.1,253.8 1942.8,256.8 1943.5,259.9 1944.1,262.9 1944.8,265.9 1945.3,268.9 1945.9,272.0 1946.4,275.0 1946.9,278.1 1947.4,281.1 1947.8,284.2 1948.3,287.2 1948.7,290.3 1949.1,293.3 1949.5,296.4 1949.9,299.4 1950.3,302.5 1950.7,305.5 1951.1,308.6 1951.5,311.6 1951.9,314.6 1952.3,317.7 1952.6,320.7 1953.0,323.8 1953.4,326.8 1953.7,329.9 1954.1,332.9 1954.4,335.9 1954.8,339.0 1955.1,342.0 1955.5,345.1 1955.8,348.1 1956.2,351.2 1956.5,354.2 1956.9,357.3 1957.2,360.4 1957.6,363.4 1957.9,366.5 1958.3,369.6 1958.6,372.6 1959.0,375.7 1959.3,378.8 1959.7,381.8 1960.0,384.9 1960.4,388.0 1960.7,391.0 1961.1,394.1 1961.5,397.2 1961.8,400.3 1962.2,403.3 1962.5,406.4 1962.9,409.5 1963.2,412.6 1963.5,415.6 1963.9,418.7 1964.2,421.8 1964.6,424.8 1964.9,427.9 1965.3,431.0 1965.6,434.0 1965.9,437.1 1966.3,440.1 1966.6,443.2 1966.9,446.3 1967.3,449.3 1967.6,452.3 1967.9,455.4 1968.3,458.4 1968.6,461.5 1968.9,464.5 1969.2,467.5 1969.5,470.5 1969.8,473.6 1970.2,476.6 1970.5,479.6 1970.8,482.6 1971.1,485.6 1971.5,488.6 1971.8,491.6 1972.2,494.7 1972.7,497.7 1973.1,500.7 1973.6,503.8 1974.1,506.8 1974.7,509.9 1975.3,513.0 1975.9,516.0 1976.6,519.1 1977.4,522.3 1978.2,525.4 1979.1,528.5 1980.1,531.7 1981.1,534.9 1982.2,538.1 1983.5,541.2 1984.8,543.9 1986.3,545.7 1988.0,546.4 1989.9,545.8 1991.9,544.0 1993.7,541.6 1995.2,538.9 1996.4,536.1 1997.3,533.2 1998.1,530.2 1998.7,527.2 1999.3,524.1 1999.9,521.1 2000.4,518.0 2001.0,514.9 2001.5,511.9 2002.0,508.8 2002.5,505.7 2003.0,502.6 2003.5,499.6 2004.0,496.5 2004.5,493.4 2004.9,490.3 2005.4,487.2 2005.8,484.2 2006.3,481.1 2006.7,478.0 2007.1,474.9 2007.6,471.8 2008.0,468.8 2008.4,465.7 2008.9,462.6 2009.3,459.5 2009.7,456.5 2010.1,453.4 2010.6,450.3 2011.0,447.3 2011.4,444.2 2011.8,441.1 2012.3,438.1 2012.7,435.0 2013.2,432.0 2013.6,428.9 2014.1,425.9 2014.5,422.8 2015.0,419.8 2015.5,416.7 2015.9,413.7 2016.4,410.7 2016.9,407.7 2017.4,404.6 2018.0,401.6 2018.5,398.6 2019.0,395.6 2019.6,392.6 2020.2,389.6 2020.8,386.6 2021.4,383.6 2022.0,380.7 2022.6,377.7 2023.3,374.7 2023.9,371.8 2024.6,368.8 2025.3,365.9 2026.0,362.9 2026.8,360.0 2027.5,357.1 2028.3,354.1 2029.1,351.2 2029.9,348.3 2030.7,345.4 2031.6,342.5 2032.4,339.6 2033.3,336.7 2034.2,333.8 2035.2,330.9 2036.1,328.0 2037.1,325.1 2038.1,322.2 2039.1,319.3 2040.2,316.4 2041.2,313.5 2042.3,310.6 2043.4,307.7 2044.5,304.8 2045.7,301.9 2046.9,299.0 2048.1,296.1 2049.3,293.2 2050.5,290.2 2051.8,287.3 2053.1,284.4 2054.4,281.5 2055.8,278.6 2057.2,275.7 2058.6,272.9 2060.0,270.0 2061.5,267.2 2063.1,264.4 2064.6,261.7 2066.3,259.0 2067.9,256.3 2069.6,253.7 2071.4,251.1 2073.2,248.6 2075.0,246.2 2076.9,243.8 2078.9,241.4 2080.9,239.2 2082.9,237.0 2085.0,234.8 2087.2,232.8 2089.5,230.8 2091.8,229.0 2094.1,227.2 2096.6,225.5 2099.1,223.9 2101.6,222.4 2104.3,221.1 2106.9,219.8 2109.7,218.5 2112.5,217.4 2115.3,216.3 2118.2,215.4 2121.1,214.4 2124.1,213.5 2127.1,212.7 2130.1,211.9 2133.1,211.2 2136.1,210.4 2139.2,209.7 2142.2,209.1 2145.3,208.4 2148.3,207.7 2151.4,207.1 2154.4,206.5 2157.5,205.8 2160.5,205.2 2163.6,204.6 2166.6,204.1 2169.7,203.5 2172.7,202.9 2175.8,202.4 2178.8,201.9 2181.9,201.3 2184.9,200.8 2188.0,200.3 2191.0,199.8 2194.1,199.4 2197.1,198.9 2200.2,198.4 2203.2,198.0 2206.3,197.6 2209.3,197.1 2212.4,196.7 2215.4,196.3 2218.5,195.9 2221.5,195.6 2224.6,195.2 2227.6,194.8 2230.7,194.5 2233.8,194.1 2236.8,193.8 2239.9,193.5 2242.9,193.2 2246.0,192.9 2249.0,192.6 2252.1,192.3 2255.2,192.0 2258.2,191.7 2261.3,191.5 2264.3,191.2 2267.4,191.0 2270.5,190.7 2273.5,190.5 2276.6,190.3 2279.6,190.0 2282.7,189.8 2285.8,189.6 2288.8,189.4 2291.9,189.3 2294.9,189.1 2298.0,188.9 2301.1,188.7 2304.1,188.6 2307.2,188.4 2310.3,188.3 2313.3,188.1 2316.4,188.0 2319.5,187.9 2322.5,187.7 2325.6,187.6 2328.7,187.5 2331.7,187.4 2334.8,187.3 2337.9,187.2 2341.0,187.1 2344.0,187.0 2347.1,186.9 2350.2,186.9 2353.2,186.8 2356.3,186.7 2359.4,186.7 2362.5,186.6 2365.5,186.5 2368.6,186.5 2371.7,186.4 2374.8,186.4 2377.9,186.3 2380.9,186.3 2384.0,186.3 2387.1,186.2 2390.2,186.2 2393.2,186.2 2396.3,186.2 2399.4,186.1 2402.5,186.1 2405.6,186.1 2408.7,186.1 2411.7,186.1 2414.8,186.1 2417.9,186.1 2421.0,186.0 2424.1,186.0 2427.2,186.0 2430.3,186.0 2433.3,186.0 2436.4,186.0 2439.5,186.0 2442.6,186.0 2445.7,186.0 2448.8,186.0 2451.9,186.0 2455.0,186.0 2458.1,186.0" fill="none" stroke="#e8343c" stroke-width="5" stroke-linejoin="round"/>
<path d="M1452.1,181.5 1455.3,181.6 1458.6,181.6 1461.9,181.6 1465.2,181.6 1468.5,181.6 1471.8,181.7 1475.1,181.7 1478.4,181.7 1481.8,181.7 1485.1,181.8 1488.4,181.8 1491.7,181.8 1495.0,181.8 1498.3,181.9 1501.6,181.9 1504.9,181.9 1508.3,181.9 1511.6,182.0 1514.9,182.0 1518.2,182.0 1521.5,182.1 1524.9,182.1 1528.2,182.1 1531.5,182.2 1534.8,182.2 1538.2,182.2 1541.5,182.2 1544.8,182.3 1548.2,182.3 1551.5,182.3 1554.8,182.4 1558.2,182.4 1561.5,182.4 1564.8,182.5 1568.2,182.5 1571.5,182.5 1574.8,182.5 1578.1,182.6 1581.5,182.6 1584.8,182.6 1588.2,182.6 1591.5,182.7 1594.8,182.7 1598.2,182.7 1601.5,182.7 1604.8,182.8 1608.2,182.8 1611.5,182.8 1614.8,182.8 1618.1,182.9 1621.5,182.9 1624.8,182.9 1628.1,182.9 1631.5,182.9 1634.8,182.9 1638.1,183.0 1641.5,183.0 1644.8,183.0 1648.1,183.0 1651.4,183.0 1654.8,183.0 1658.1,183.0 1661.4,183.0 1664.7,183.0 1668.0,183.0 1671.4,183.0 1674.7,183.0 1678.0,183.0 1681.3,183.0 1684.6,183.0 1687.9,183.0 1691.2,183.0 1694.6,183.0 1697.9,183.0 1701.2,183.0 1704.5,183.0 1707.8,182.9 1711.1,182.9 1714.4,182.9 1717.7,182.9 1721.0,182.9 1724.3,182.8 1727.6,182.8 1730.9,182.8 1734.1,182.8 1737.4,182.8 1740.7,182.7 1744.0,182.7 1747.3,182.7 1750.6,182.7 1753.9,182.7 1757.2,182.7 1760.5,182.7 1763.8,182.7 1767.1,182.7 1770.4,182.6 1773.7,182.7 1777.0,182.7 1780.3,182.7 1783.6,182.7 1786.9,182.7 1790.2,182.7 1793.5,182.7 1796.8,182.8 1800.1,182.8 1803.4,182.8 1806.7,182.9 1810.0,182.9 1813.3,183.0 1816.7,183.1 1820.0,183.1 1823.3,183.2 1826.6,183.3 1830.0,183.4 1833.3,183.5 1836.6,183.6 1840.0,183.7 1843.3,183.8 1846.7,183.9 1850.0,184.1 1853.4,184.2 1856.7,184.4 1860.1,184.5 1863.5,184.7 1866.8,184.9 1870.2,185.1 1873.6,185.3 1877.0,185.5 1880.4,185.7 1883.7,185.9 1887.1,186.2 1890.6,186.4 1894.0,186.7 1897.4,187.0 1900.7,187.3 1904.1,187.7 1907.4,188.2 1910.6,188.8 1913.8,189.5 1916.9,190.4 1919.9,191.4 1922.8,192.5 1925.6,193.9 1928.2,195.5 1930.7,197.2 1933.1,199.3 1935.2,201.6 1937.2,204.1 1939.1,206.9 1940.7,209.9 1942.2,213.1 1943.6,216.3 1944.9,219.6 1946.0,222.9 1947.0,226.2 1948.0,229.5 1948.9,232.7 1949.6,236.0 1950.4,239.2 1951.1,242.4 1951.7,245.7 1952.3,248.9 1952.9,252.1 1953.4,255.3 1954.0,258.6 1954.5,261.8 1955.0,265.1 1955.5,268.3 1956.0,271.6 1956.5,274.8 1957.0,278.1 1957.4,281.4 1957.9,284.6 1958.3,287.9 1958.8,291.2 1959.2,294.5 1959.6,297.7 1960.0,301.0 1960.4,304.3 1960.8,307.6 1961.1,310.9 1961.5,314.2 1961.9,317.5 1962.2,320.8 1962.6,324.1 1962.9,327.4 1963.2,330.8 1963.5,334.1 1963.9,337.4 1964.2,340.7 1964.5,344.0 1964.8,347.3 1965.1,350.6 1965.3,354.0 1965.6,357.3 1965.9,360.6 1966.2,363.9 1966.5,367.2 1966.7,370.6 1967.0,373.9 1967.2,377.2 1967.5,380.5 1967.8,383.9 1968.0,387.2 1968.3,390.5 1968.5,393.8 1968.8,397.1 1969.0,400.4 1969.2,403.8 1969.5,407.1 1969.7,410.4 1970.0,413.7 1970.2,417.0 1970.5,420.3 1970.7,423.6 1971.0,426.9 1971.2,430.2 1971.5,433.5 1971.7,436.8 1971.9,440.1 1972.2,443.4 1972.4,446.7 1972.7,450.0 1972.9,453.3 1973.2,456.6 1973.4,459.9 1973.7,463.2 1973.9,466.5 1974.2,469.8 1974.4,473.1 1974.7,476.4 1975.0,479.7 1975.2,483.0 1975.5,486.3 1975.7,489.6 1976.0,492.9 1976.2,496.2 1976.5,499.5 1976.7,502.8 1977.0,506.1 1977.3,509.4 1977.5,512.7 1977.8,516.1 1978.0,519.4 1978.3,522.7 1978.6,526.0 1978.8,529.3 1979.1,532.7 1979.4,536.0 1979.7,539.3 1980.0,542.6 1980.4,546.0 1980.7,549.3 1981.1,552.6 1981.5,556.0 1982.0,559.3 1982.5,562.7 1983.0,566.0 1983.6,569.3 1984.1,572.7 1984.8,576.0 1985.5,579.4 1986.2,582.7 1987.0,586.1 1987.9,589.4 1988.8,592.7 1989.8,595.8 1990.8,598.3 1991.9,599.7 1993.2,599.8 1994.5,598.4 1995.7,596.0 1996.9,593.1 1998.0,590.0 1998.9,586.8 1999.8,583.6 2000.5,580.3 2001.2,577.0 2001.8,573.6 2002.3,570.2 2002.8,566.7 2003.3,563.3 2003.8,559.9 2004.2,556.5 2004.7,553.1 2005.1,549.7 2005.6,546.3 2006.0,543.0 2006.4,539.6 2006.9,536.2 2007.3,532.9 2007.7,529.5 2008.1,526.2 2008.5,522.8 2008.8,519.5 2009.2,516.2 2009.6,512.8 2010.0,509.5 2010.3,506.2 2010.7,502.9 2011.1,499.6 2011.4,496.3 2011.8,493.0 2012.2,489.7 2012.5,486.4 2012.9,483.1 2013.3,479.8 2013.6,476.5 2014.0,473.2 2014.4,469.9 2014.7,466.7 2015.1,463.4 2015.5,460.1 2015.9,456.9 2016.2,453.6 2016.6,450.3 2017.0,447.1 2017.4,443.8 2017.9,440.6 2018.3,437.3 2018.7,434.0 2019.1,430.8 2019.6,427.5 2020.0,424.3 2020.5,421.0 2021.0,417.8 2021.5,414.5 2022.0,411.3 2022.5,408.1 2023.0,404.8 2023.5,401.6 2024.1,398.3 2024.6,395.1 2025.2,391.8 2025.8,388.6 2026.4,385.3 2027.0,382.1 2027.6,378.9 2028.3,375.6 2028.9,372.4 2029.6,369.1 2030.3,365.9 2031.0,362.7 2031.7,359.4 2032.5,356.2 2033.2,352.9 2034.0,349.7 2034.8,346.5 2035.6,343.2 2036.5,340.0 2037.3,336.7 2038.2,333.5 2039.1,330.3 2040.0,327.0 2040.9,323.8 2041.9,320.5 2042.9,317.3 2043.9,314.1 2045.0,310.9 2046.0,307.7 2047.1,304.5 2048.3,301.3 2049.5,298.1 2050.7,295.0 2051.9,291.9 2053.2,288.8 2054.6,285.7 2055.9,282.7 2057.4,279.7 2058.9,276.7 2060.4,273.7 2062.0,270.8 2063.6,268.0 2065.3,265.2 2067.1,262.4 2068.9,259.7 2070.8,257.0 2072.7,254.3 2074.7,251.8 2076.8,249.2 2078.9,246.8 2081.2,244.4 2083.5,242.0 2085.8,239.8 2088.3,237.5 2090.8,235.4 2093.3,233.3 2096.0,231.3 2098.6,229.4 2101.4,227.5 2104.2,225.8 2107.0,224.1 2109.9,222.5 2112.8,220.9 2115.8,219.5 2118.8,218.2 2121.9,216.9 2125.0,215.7 2128.1,214.7 2131.2,213.7 2134.4,212.7 2137.6,211.9 2140.8,211.1 2144.0,210.3 2147.3,209.6 2150.6,209.0 2153.9,208.4 2157.2,207.8 2160.5,207.3 2163.8,206.8 2167.1,206.3 2170.4,205.8 2173.7,205.4 2177.1,204.9 2180.4,204.4 2183.7,203.9 2187.0,203.4 2190.3,202.9 2193.6,202.4 2196.9,201.8 2200.2,201.3 2203.4,200.7 2206.7,200.1 2210.0,199.5 2213.2,199.0 2216.5,198.4 2219.8,197.8 2223.0,197.2 2226.3,196.7 2229.5,196.1 2232.8,195.6 2236.1,195.0 2239.3,194.5 2242.6,194.0 2245.9,193.6 2249.1,193.1 2252.4,192.7 2255.7,192.3 2259.0,191.9 2262.3,191.5 2265.5,191.2 2268.8,190.8 2272.1,190.5 2275.4,190.2 2278.7,189.9 2282.0,189.6 2285.3,189.4 2288.6,189.1 2292.0,188.9 2295.3,188.7 2298.6,188.5 2301.9,188.3 2305.2,188.1 2308.5,187.9 2311.9,187.8 2315.2,187.6 2318.5,187.5 2321.8,187.4 2325.1,187.3 2328.5,187.2 2331.8,187.1 2335.1,187.0 2338.5,186.9 2341.8,186.9 2345.1,186.8 2348.4,186.7 2351.8,186.7 2355.1,186.6 2358.4,186.6 2361.8,186.6 2365.1,186.5 2368.4,186.5 2371.8,186.5 2375.1,186.5 2378.4,186.5 2381.8,186.5 2385.1,186.5 2388.4,186.5 2391.7,186.5 2395.1,186.5 2398.4,186.4 2401.7,186.4 2405.0,186.4 2408.4,186.4 2411.7,186.4 2415.0,186.4 2418.3,186.4 2421.6,186.4 2424.9,186.4 2428.3,186.4 2431.6,186.4 2434.9,186.3 2438.2,186.3 2441.5,186.3 2444.8,186.2 2448.1,186.2 2451.4,186.1 2454.7,186.1 2458.0,186.0" fill="none" stroke="#2266d0" stroke-width="5" stroke-linejoin="round"/></g>
<rect x="1454.5" y="62" width="1001.5" height="807.5" fill="none" stroke="#111" stroke-width="5.3"/>
<line x1="1708.7" y1="869" x2="1708.7" y2="855" stroke="#111" stroke-width="5.5"/>
<line x1="2007.7" y1="869" x2="2007.7" y2="855" stroke="#111" stroke-width="5.5"/>
<line x1="2305.8" y1="869" x2="2305.8" y2="855" stroke="#111" stroke-width="5.5"/>
<line x1="1454" y1="335" x2="1467" y2="335" stroke="#111" stroke-width="5.5"/>
<line x1="1454" y1="486.5" x2="1467" y2="486.5" stroke="#111" stroke-width="5.5"/>
<line x1="1454" y1="639.6" x2="1467" y2="639.6" stroke="#111" stroke-width="5.5"/>
<line x1="1454" y1="791.3" x2="1467" y2="791.3" stroke="#111" stroke-width="5.5"/>
<path d="M1487,796.5 H1960.5 V605" fill="none" stroke="#000" stroke-width="11"/>
<rect x="1475.5" y="595" width="479.5" height="195" fill="#fff" stroke="#9a9a9a" stroke-width="2.5"/>
<line x1="1480.5" y1="626.8" x2="1591" y2="626.8" stroke="#606060" stroke-width="5"/>
<line x1="1480.5" y1="692.3" x2="1591" y2="692.3" stroke="#e8343c" stroke-width="5"/>
<line x1="1480.5" y1="758" x2="1591" y2="758" stroke="#2266d0" stroke-width="5"/>
<g style="font-family:'Liberation Serif','Times New Roman',serif;font-weight:bold" fill="#000">
<text transform="translate(83.88,123.70) scale(1.0544,1)" font-size="84">(a)</text>
<text transform="translate(105.07,230.60) scale(1.0169,1)" font-size="70">90</text>
<text transform="translate(106.63,451.30) scale(0.9831,1)" font-size="70">60</text>
<text transform="translate(103.40,671.60) scale(1.0344,1)" font-size="70">30</text>
<text transform="translate(139.27,891.50) scale(1.0448,1)" font-size="70">0</text>
<text transform="translate(370.74,941.00) scale(0.9879,1)" font-size="70">200</text>
<text transform="translate(681.22,941.00) scale(0.9832,1)" font-size="70">400</text>
<text transform="translate(988.74,941.00) scale(0.9780,1)" font-size="70">600</text>
<text transform="translate(430.51,1013.20) scale(0.9905,1)" font-size="70">Temperature (°C)</text>
<text transform="translate(82.00,638.21) rotate(-90) scale(1.0104,1)" font-size="68.7">Weight (%)</text>
<text transform="translate(355.76,672.00) scale(0.9389,1)" font-size="52.8">EP-0</text>
<text transform="translate(353.61,740.80) scale(0.9857,1)" font-size="51.5">D-Mt-Fe<tspan x="191.31" y="-21.60" font-size="34.5">3+</tspan><tspan x="228.65" y="0" font-size="51.5">/EP-5</tspan></text>
<text transform="translate(354.32,810.90) scale(0.9762,1)" font-size="51.5">D-Mt-Fe<tspan x="191.68" y="-21.70" font-size="34.5">3+</tspan><tspan x="229.75" y="0" font-size="51.5">/EP-10</tspan></text>
<text transform="translate(1333.38,127.60) scale(1.0305,1)" font-size="84">(b)</text>
<text transform="translate(1350.61,204.20) scale(0.9976,1)" font-size="70">0.0</text>
<text transform="translate(1327.71,358.00) scale(0.9981,1)" font-size="70">-0.5</text>
<text transform="translate(1328.76,509.10) scale(0.9800,1)" font-size="70">-1.0</text>
<text transform="translate(1327.00,662.60) scale(1.0000,1)" font-size="70">-1.5</text>
<text transform="translate(1327.00,814.30) scale(1.0000,1)" font-size="70">-2.0</text>
<text transform="translate(1655.58,940.50) scale(1.0051,1)" font-size="70">200</text>
<text transform="translate(1955.81,940.50) scale(0.9891,1)" font-size="70">400</text>
<text transform="translate(2255.40,940.50) scale(0.9990,1)" font-size="70">600</text>
<text transform="translate(1746.01,1011.80) scale(0.9947,1)" font-size="69.5">Temperature (°C)</text>
<text transform="translate(1304.10,862.02) rotate(-90) scale(1.0186,1)" font-size="67">Derivate weight (wt%/min)</text>
<text transform="translate(1602.12,644.30) scale(0.9768,1)" font-size="48.4">EP-0</text>
<text transform="translate(1602.10,709.30) scale(0.9971,1)" font-size="47">D-Mt-Fe<tspan x="177.68" y="-20.00" font-size="32">3+</tspan><tspan x="210.30" y="0" font-size="47">/EP-5</tspan></text>
<text transform="translate(1602.10,775.20) scale(0.9971,1)" font-size="47">D-Mt-Fe<tspan x="177.68" y="-20.00" font-size="32">3+</tspan><tspan x="210.30" y="0" font-size="47">/EP-10</tspan></text>
</g>
</svg>
</body></html>
